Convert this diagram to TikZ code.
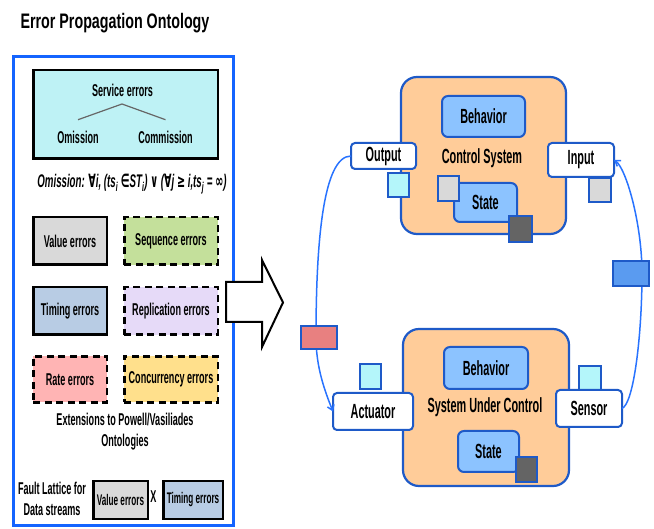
\documentclass[tikz,border=0pt]{standalone}
\usepackage{fontspec}
\setmainfont[FakeStretch=0.53]{Liberation Sans}
\newfontfamily\titlefont[FakeStretch=0.68]{Liberation Sans}
\newfontfamily\symfont[FakeStretch=0.53]{DejaVu Sans}
\usetikzlibrary{arrows.meta,calc}

\definecolor{frameblue}{RGB}{20,100,255}
\definecolor{svccyan}{RGB}{190,242,245}
\definecolor{valgray}{RGB}{217,217,217}
\definecolor{seqgreen}{RGB}{196,224,155}
\definecolor{timblue}{RGB}{184,204,228}
\definecolor{repviolet}{RGB}{230,218,248}
\definecolor{ratepink}{RGB}{255,180,180}
\definecolor{conyellow}{RGB}{255,224,140}
\definecolor{peach}{RGB}{255,204,153}
\definecolor{sysblue}{RGB}{30,90,200}
\definecolor{partblue}{RGB}{140,195,255}
\definecolor{portcyan}{RGB}{180,246,250}
\definecolor{portgray}{RGB}{217,217,217}
\definecolor{portdark}{RGB}{100,100,100}
\definecolor{linkblue}{RGB}{40,115,255}
\definecolor{redmsg}{RGB}{232,128,128}
\definecolor{bluemsg}{RGB}{90,155,240}

\begin{document}
\begin{tikzpicture}[x=1pt,y=-1pt,
  every node/.style={inner sep=0pt, outer sep=0pt},
  lt/.style={font=\fontsize{17.1}{20}\selectfont\bfseries},
  rt/.style={font=\fontsize{20.5}{24}\selectfont\bfseries},
  errbox/.style={draw=black, line width=2.5pt, minimum width=73.5pt, minimum height=47.5pt, lt},
  widebox/.style={errbox, minimum width=93.5pt},
  dashbox/.style={dash pattern=on 7pt off 4.5pt},
  smallbox/.style={draw=black, line width=2.5pt, minimum height=37.5pt, font=\fontsize{15.4}{18}\selectfont\bfseries},
  sysbox/.style={draw=sysblue, line width=2.2pt, fill=peach, rounded corners=16pt},
  partbox/.style={draw=sysblue, line width=2pt, fill=partblue, rounded corners=6pt, rt},
  iobox/.style={draw=sysblue, line width=2pt, fill=white, rounded corners=4pt, rt},
  port/.style={draw=sysblue, line width=2pt},
  msgbox/.style={draw=sysblue, line width=2pt, minimum width=36pt},
  link/.style={draw=linkblue, line width=1.5pt},
  tip/.style={-{Straight Barb[length=5pt,width=7pt]}},
]
\useasboundingbox (0,0) rectangle (654,529);

% ---- ontology panel ----
\node[font=\titlefont\fontsize{21}{24}\selectfont\bfseries, anchor=base] (title) at (115,29) {Error Propagation Ontology};
\node[draw=frameblue, line width=3pt, minimum width=220pt, minimum height=469pt] (frame) at (123.5,291) {};

\node[draw=black, line width=2.5pt, fill=svccyan, minimum width=184.5pt, minimum height=88.5pt] (svc) at (125.5,114.5) {};
\node[lt] (svct) at (122.5,90) {Service errors};
\node[lt] (om) at (78,137) {Omission};
\node[lt] (com) at (165.5,137) {Commission};
\coordinate (apex) at (122,104);
\draw[draw=black!60, line width=1.2pt] ([yshift=11pt]om.north) -- (apex) -- ([yshift=11pt]com.north);

\node[font=\fontsize{18.3}{20}\selectfont\bfseries\itshape] (omdef) at (132,184)
  {Omission: {\symfont ∀}i, (ts\textsubscript{i} {\symfont ∈}ST\textsubscript{i}) {\symfont ∨} ({\symfont ∀}j {\symfont ≥} i,ts\textsubscript{j} = {\symfont ∞})};

\node[errbox, fill=valgray] (val) at (70,241) {Value errors};
\node[widebox, dashbox, fill=seqgreen] (seq) at (171,241) {Sequence errors};
\node[errbox, fill=timblue] (tim) at (70,311) {Timing errors};
\node[widebox, dashbox, fill=repviolet] (rep) at (171,311) {Replication errors};
\node[errbox, dashbox, fill=ratepink, minimum height=46pt] (rate) at (70,379.5) {Rate errors};
\node[widebox, dashbox, fill=conyellow, minimum height=46pt] (con) at (171,379.5) {Concurrency errors};

\node[align=center, font=\fontsize{17.1}{21}\selectfont\bfseries] (ext) at (125,431.5) {Extensions to Powell/Vasiliades\\Ontologies};

\node[align=center, font=\fontsize{17.1}{21.5}\selectfont\bfseries] (fl) at (52,499) {Fault Lattice for\\Data streams};
\node[smallbox, fill=valgray, minimum width=54.5pt] (fv) at (120.5,500) {Value errors};
\node[lt] (times) at (153.5,497) {X};
\node[smallbox, fill=timblue, minimum width=59.5pt] (ft) at (193,500) {Timing errors};

% ---- hollow block arrow ----
\draw[line width=2pt, fill=white, line join=miter]
  (226,282) -- (262,282) -- (262,260) -- (283,302.5) -- (262,347) -- (262,322) -- (226,322) -- cycle;

% ---- control system ----
\node[sysbox, minimum width=165pt, minimum height=157pt] (cs) at (483.5,155.5) {};
\node[partbox, minimum width=83pt, minimum height=41pt] (csb) at (483.5,116.5) {Behavior};
\node[rt] (cst) at (482,158) {Control System};
\node[partbox, minimum width=63pt, minimum height=39pt] (css) at (485.5,202.5) {State};
\node[port, fill=portgray, minimum width=21pt, minimum height=25pt] (cssin) at (448.5,188.5) {};
\node[port, fill=portdark, minimum width=23pt, minimum height=26pt] (cssout) at (520.5,229) {};
\node[iobox, minimum width=65pt, minimum height=26pt] (out) at (383.5,156) {Output};
\node[port, fill=portcyan, minimum width=21pt, minimum height=24pt] (outp) at (398.5,185) {};
\node[iobox, minimum width=66pt, minimum height=34pt] (inp) at (581,160) {Input};
\node[port, fill=portgray, minimum width=22pt, minimum height=24pt] (inpp) at (600,190) {};

% ---- system under control ----
\node[sysbox, minimum width=166pt, minimum height=157pt] (suc) at (486,407.5) {};
\node[partbox, minimum width=84pt, minimum height=42pt] (sucb) at (486,368) {Behavior};
\node[rt] (suct) at (485,407) {System Under Control};
\node[partbox, minimum width=61pt, minimum height=41pt] (sucs) at (488.5,451.5) {State};
\node[port, fill=portdark, minimum width=21pt, minimum height=25pt] (sucsout) at (526.5,469.5) {};
\node[port, fill=portcyan, minimum width=21pt, minimum height=25pt] (actp) at (370.5,376.5) {};
\node[iobox, minimum width=80pt, minimum height=37pt] (act) at (373,411.5) {Actuator};
\node[port, fill=portcyan, minimum width=22pt, minimum height=25pt] (senp) at (590,378.5) {};
\node[iobox, minimum width=66pt, minimum height=37pt] (sen) at (589,408.5) {Sensor};

% ---- feedback links ----
\coordinate (lv) at (316,337.5);
\coordinate (rv) at (642,273.5);
\draw[link, tip] (out.west) .. controls +(-28,0) and +(0,-95) .. (lv)
  .. controls +(0,30) and +(-8,-20) .. (act.west);
\draw[link, tip] (sen.east) .. controls +(12,-5) and +(0,60) .. (rv)
  .. controls +(0,-50) and +(12,8) .. (inp.east);
\node[msgbox, fill=redmsg, minimum height=23pt] (cmd) at (319,337.5) {};
\node[msgbox, fill=bluemsg, minimum height=25pt] (meas) at (631,273.5) {};
\end{tikzpicture}
\end{document}
